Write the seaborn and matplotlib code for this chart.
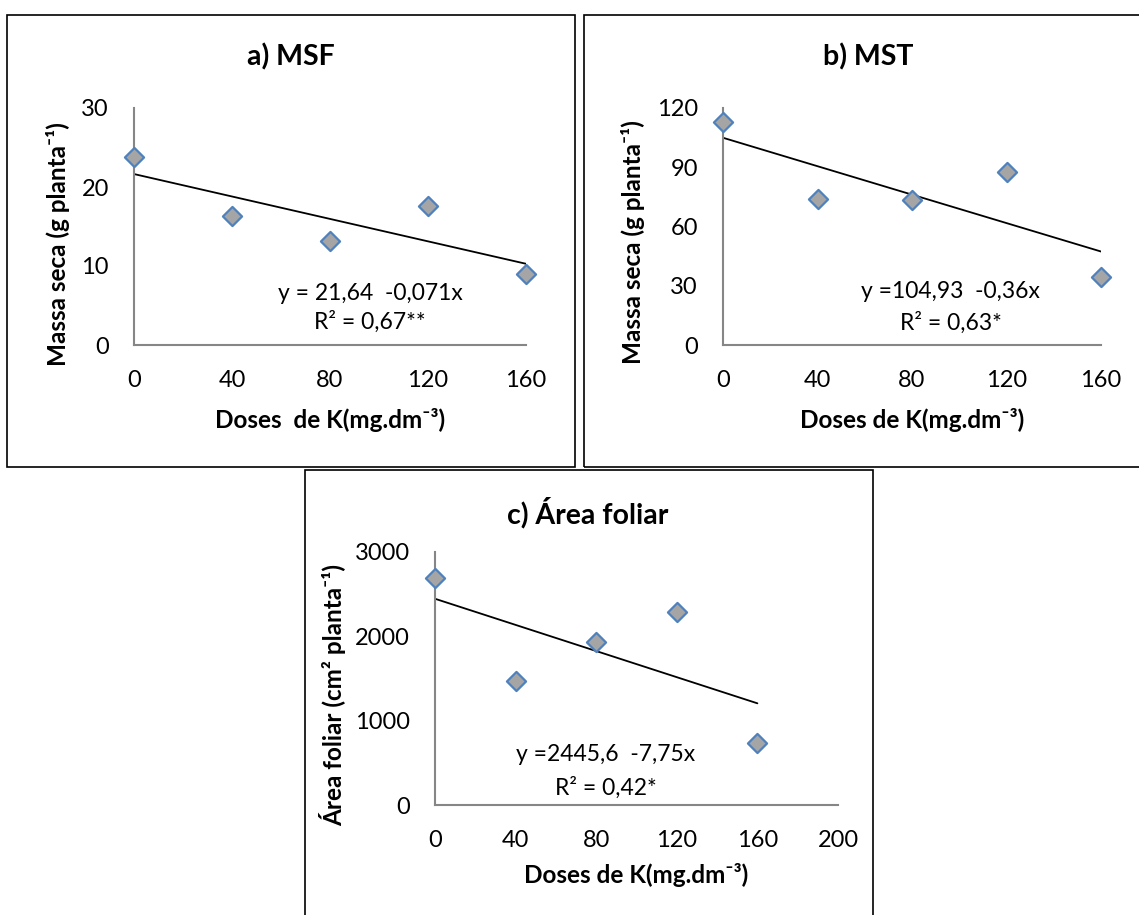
import matplotlib
matplotlib.use("Agg")
import matplotlib.pyplot as plt
import seaborn as sns
import pandas as pd
from matplotlib.patches import Rectangle

# ---------------- data ----------------
doses = [0, 40, 80, 120, 160]
msf = [23.8, 16.3, 13.2, 17.6, 9.0]
mst = [113.0, 74.0, 73.5, 87.6, 34.5]
area = [2690, 1470, 1935, 2290, 735]

intercepts = [21.64, 104.93, 2445.6]
slopes = [-0.071, -0.36, -7.75]

titles = ["a) MSF", "b) MST", "c) Área foliar"]
ylabels = ["Massa seca (g planta⁻¹)", "Massa seca (g planta⁻¹)", "Área foliar (cm² planta⁻¹)"]
xlabels = ["Doses  de K(mg.dm⁻³)", "Doses de K(mg.dm⁻³)", "Doses de K(mg.dm⁻³)"]
eq_lines = ["y = 21,64  -0,071x", "y =104,93  -0,36x", "y =2445,6  -7,75x"]
r2_lines = ["R² = 0,67**", "R² = 0,63*", "R² = 0,42*"]
yticks = [[0, 10, 20, 30], [0, 30, 60, 90, 120], [0, 1000, 2000, 3000]]
xticks = [[0, 40, 80, 120, 160], [0, 40, 80, 120, 160], [0, 40, 80, 120, 160, 200]]

# ---------------- style ----------------
sns.set_theme(style="white")
FAM = ["Lato", "DejaVu Sans"]
plt.rcParams["font.family"] = FAM

W, H = 1139, 915
fig = plt.figure(figsize=(W / 100, H / 100), dpi=100)
fig.patch.set_facecolor("white")


def fx(x):
    return x / W


def fy(y):
    return 1 - y / H


def axes_px(x0, x1, ytop, ybot):
    return [fx(x0), fy(ybot), fx(x1) - fx(x0), (ybot - ytop) / H]


# axes rectangles in pixel coordinates (left, right, top, bottom)
rects = [(134, 526, 108, 345), (723, 1101, 108, 345), (435, 838, 552, 805)]
ys = [msf, mst, area]

title_pos = [(0.40, 1.215), (0.384, 1.215), (0.38, 1.154)]
ylab_pos = [(-0.194, 0.428), (-0.238, 0.435), (-0.253, 0.435)]
xlab_pos = [(0.5, -0.316), (0.5, -0.316), (0.5, -0.277)]
eq_pos = [(0.602, 0.219, 0.097), (0.603, 0.224, 0.093), (0.424, 0.198, 0.067)]

# panel frames
frames = [(7, 15, 575, 467), (584, 15, 1150, 467), (305, 470, 873, 925)]
for (x0, y0, x1, y1) in frames:
    fig.add_artist(Rectangle((fx(x0), fy(y1)), fx(x1) - fx(x0), (y1 - y0) / H,
                             transform=fig.transFigure, fill=False,
                             edgecolor="black", linewidth=1.2, clip_on=False))

for i in range(3):
    x0, x1, yt, yb = rects[i]
    ax = fig.add_axes(axes_px(x0, x1, yt, yb))
    ax.set_facecolor("none")
    df = pd.DataFrame({"dose": doses, "val": ys[i]})

    # trend line
    xl = [doses[0], doses[-1]]
    yl = [intercepts[i] + slopes[i] * v for v in xl]
    sns.lineplot(x=xl, y=yl, ax=ax, color="black", linewidth=1.3)

    # points
    sns.scatterplot(data=df, x="dose", y="val", ax=ax, marker="D", s=95,
                    color="#A5A5A5", edgecolor="#4F81BD", linewidth=1.6,
                    clip_on=False, zorder=5)

    ax.set_xlim(xticks[i][0], xticks[i][-1])
    ax.set_ylim(yticks[i][0], yticks[i][-1])
    ax.set_xticks(xticks[i])
    ax.set_yticks(yticks[i])
    ax.tick_params(axis="both", length=0, labelsize=17, colors="black")
    ax.tick_params(axis="y", pad=18)
    ax.tick_params(axis="x", pad=18)
    for s in ["top", "right"]:
        ax.spines[s].set_visible(False)
    for s in ["left", "bottom"]:
        ax.spines[s].set_color("#868686")
        ax.spines[s].set_linewidth(1.5)

    ax.set_xlabel(xlabels[i], fontsize=17.5, fontweight="bold", color="black")
    ax.set_ylabel(ylabels[i], fontsize=17.5, fontweight="bold", color="black")
    ax.xaxis.label.set_verticalalignment("center")
    ax.yaxis.label.set_verticalalignment("center")
    ax.xaxis.set_label_coords(*xlab_pos[i])
    ax.yaxis.set_label_coords(*ylab_pos[i])

    tx, ty = title_pos[i]
    ax.text(tx, ty, titles[i], transform=ax.transAxes, ha="center", va="center",
            fontsize=20.5, fontweight="bold", color="black")

    ex, ey1, ey2 = eq_pos[i]
    ax.text(ex, ey1, eq_lines[i], transform=ax.transAxes, ha="center", va="center",
            fontsize=16.5, color="black")
    ax.text(ex, ey2, r2_lines[i], transform=ax.transAxes, ha="center", va="center",
            fontsize=16.5, color="black")

fig.savefig("out.png", dpi=100, facecolor="white")
